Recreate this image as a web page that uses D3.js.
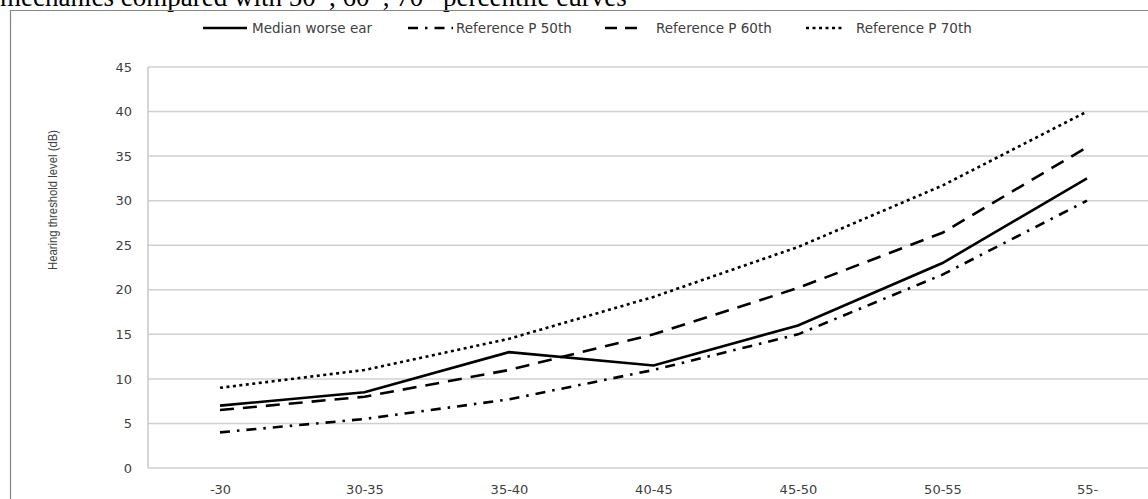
<!DOCTYPE html>
<html>
<head>
<meta charset="utf-8">
<script src="https://cdn.jsdelivr.net/npm/d3@7"></script>
<style>
  body { margin: 0; background: #fff; }
  svg { display: block; }
</style>
</head>
<body>
<svg id="chart" width="1148" height="499"></svg>
<script>
// age groups and hearing thresholds (dB)
var ageGroups = ['-30', '30-35', '35-40', '40-45', '45-50', '50-55', '55-'];
var medianWorse = [7, 8.5, 13, 11.5, 16, 23, 32.5];
var refP50 = [4, 5.5, 7.7, 11, 15, 21.7, 30];
var refP60 = [6.5, 8, 11, 15, 20.2, 26.4, 36];
var refP70 = [9, 11, 14.5, 19.2, 24.8, 31.7, 40];
var yTicks = [0, 5, 10, 15, 20, 25, 30, 35, 40, 45];

var seriesList = [
  { name: 'Median worse ear', values: medianWorse, dash: null },
  { name: 'Reference P 50th', values: refP50, dash: '10,7,2.5,7' },
  { name: 'Reference P 60th', values: refP60, dash: '14,9' },
  { name: 'Reference P 70th', values: refP70, dash: '3,3.5' }
];

var svg = d3.select('#chart');
var fontSans = '"DejaVu Sans", Verdana, sans-serif';
var textGray = '#404040';

// title, cut off at the top of the picture
svg.append('text')
  .attr('x', 0).attr('y', 6)
  .style('font-family', '"Liberation Serif", "Times New Roman", serif')
  .style('font-size', '27px')
  .attr('fill', '#000')
  .html('mechanics compared with 50<tspan dy="-9" font-size="17">th</tspan><tspan dy="9">, 60</tspan><tspan dy="-9" font-size="17">th</tspan><tspan dy="9">, 70</tspan><tspan dy="-9" font-size="17">th</tspan><tspan dy="9"> percentile curves</tspan>');

// chart frame
svg.append('path')
  .attr('d', 'M10.5,499 V10.5 H1148')
  .attr('fill', 'none')
  .attr('stroke', '#868686')
  .attr('stroke-width', 1.2);

var plotLeft = 148, plotRight = 1148, plotTop = 67, plotBottom = 468;

var x = d3.scalePoint().domain(ageGroups).range([220, 1087]);
var y = d3.scaleLinear().domain([0, 45]).range([plotBottom, plotTop]);

// gridlines
svg.append('g').selectAll('line').data(yTicks).enter()
  .append('line')
  .attr('x1', plotLeft).attr('x2', plotRight)
  .attr('y1', d => y(d)).attr('y2', d => y(d))
  .attr('stroke', '#d0d0d0')
  .attr('stroke-width', 1.5);

svg.append('line')
  .attr('x1', plotLeft).attr('x2', plotLeft)
  .attr('y1', plotTop).attr('y2', plotBottom)
  .attr('stroke', '#c8c8c8')
  .attr('stroke-width', 1.5);

// y axis labels
var yAxis = d3.axisLeft(y).tickValues(yTicks).tickSize(0).tickPadding(16);
var yg = svg.append('g').attr('transform', 'translate(' + plotLeft + ',0)').call(yAxis);
yg.select('.domain').remove();
yg.selectAll('text')
  .style('font-family', fontSans).style('font-size', '13px').attr('fill', textGray);

// x axis labels
var xAxis = d3.axisBottom(x).tickSize(0).tickPadding(17);
var xg = svg.append('g').attr('transform', 'translate(0,' + plotBottom + ')').call(xAxis);
xg.select('.domain').remove();
xg.selectAll('text')
  .style('font-family', fontSans).style('font-size', '13px').attr('fill', textGray);

// y axis title (condensed font)
svg.append('text')
  .attr('transform', 'translate(57,200) rotate(-90)')
  .attr('text-anchor', 'middle')
  .attr('textLength', 140)
  .attr('lengthAdjust', 'spacingAndGlyphs')
  .style('font-family', '"Liberation Sans Narrow", "Arial Narrow", sans-serif')
  .style('font-size', '12.5px')
  .attr('fill', textGray)
  .text('Hearing threshold level (dB)');

// lines
var line = d3.line()
  .x((d, i) => x(ageGroups[i]))
  .y(d => y(d));

svg.append('g').selectAll('path').data(seriesList).enter()
  .append('path')
  .attr('d', s => line(s.values))
  .attr('fill', 'none')
  .attr('stroke', '#000')
  .attr('stroke-width', 2.6)
  .attr('stroke-dasharray', s => s.dash);

// legend
var legendX1 = [203, 408, 605, 806];
var legendX2 = [247, 453, 637, 842];
var legendTextX = [252, 456, 656, 856];
var lg = svg.append('g').selectAll('g').data(seriesList).enter().append('g');
lg.append('line')
  .attr('x1', (s, i) => legendX1[i]).attr('x2', (s, i) => legendX2[i])
  .attr('y1', 28).attr('y2', 28)
  .attr('stroke', '#000')
  .attr('stroke-width', 2.6)
  .attr('stroke-dasharray', (s, i) => i === 2 ? '12,8' : s.dash);
lg.append('text')
  .attr('x', (s, i) => legendTextX[i]).attr('y', 32.5)
  .style('font-family', fontSans).style('font-size', '13.5px')
  .attr('fill', textGray)
  .text(s => s.name);
</script>
</body>
</html>
